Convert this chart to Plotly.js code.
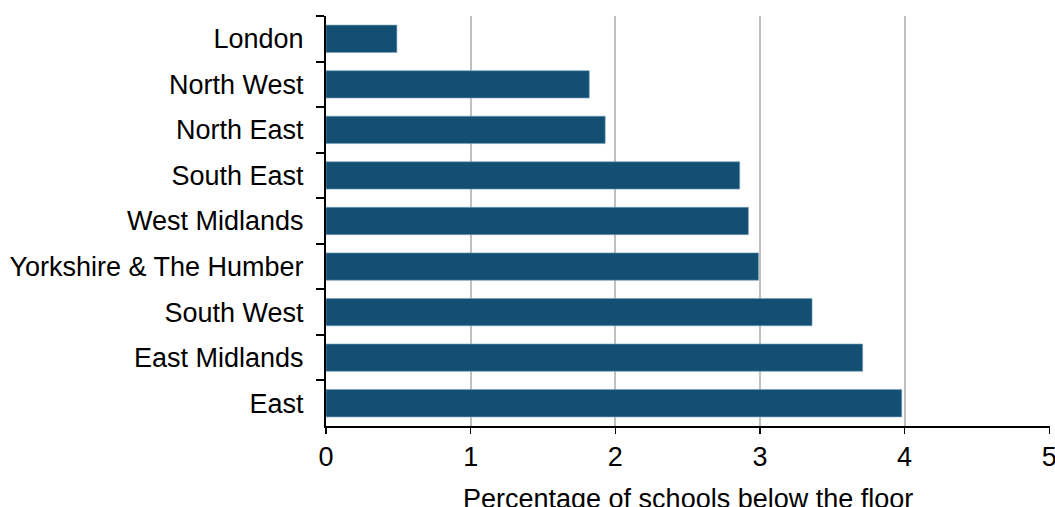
<!DOCTYPE html>
<html>
<head>
<meta charset="utf-8">
<script src="https://cdn.plot.ly/plotly-3.0.1.min.js"></script>
<style>html,body{margin:0;padding:0;background:#fff;}#chart{width:1055px;height:507px;}</style>
</head>
<body>
<div id="chart"></div>
<script>
const regions = ["London", "North West", "North East", "South East", "West Midlands", "Yorkshire & The Humber", "South West", "East Midlands", "East"];
const percentBelowFloor = [0.49, 1.82, 1.93, 2.86, 2.92, 2.99, 3.36, 3.71, 3.98];
const xTickValues = [0, 1, 2, 3, 4, 5];
const xAxisTitle = "Percentage of schools below the floor";

const font = "Arial, 'Liberation Sans', sans-serif";

Plotly.newPlot("chart", [{
  type: "bar",
  orientation: "h",
  y: regions,
  x: percentBelowFloor,
  marker: {color: "#124f72", line: {color: "rgba(120,160,185,0.8)", width: 0.8}},
  hoverinfo: "x+y"
}], {
  width: 1055,
  height: 507,
  margin: {l: 326, r: 5, t: 16, b: 81, pad: 0},
  paper_bgcolor: "#fff",
  plot_bgcolor: "#fff",
  bargap: 0.4,
  showlegend: false,
  font: {family: font, size: 27, color: "#000"},
  xaxis: {
    range: [0, 5.005],
    tickvals: xTickValues,
    ticktext: xTickValues.map(String),
    ticklabeloverflow: "allow",
    showgrid: true,
    gridcolor: "#c0c0c0",
    gridwidth: 2,
    zeroline: false,
    showline: true,
    linecolor: "#000",
    linewidth: 1.5,
    ticks: "outside",
    ticklen: 6,
    tickwidth: 1.5,
    tickcolor: "#000",
    tickfont: {family: font, size: 27, color: "#000"},
    automargin: false,
    fixedrange: true
  },
  yaxis: {
    autorange: "reversed",
    type: "category",
    showgrid: false,
    zeroline: false,
    showline: true,
    linecolor: "#000",
    linewidth: 2,
    ticks: "outside",
    tickson: "boundaries",
    ticklen: 8,
    tickwidth: 2,
    tickcolor: "#000",
    ticklabelstandoff: 15,
    tickfont: {family: font, size: 27, color: "#000"},
    automargin: false,
    fixedrange: true
  },
  annotations: [{
    text: xAxisTitle,
    xref: "paper", yref: "paper",
    x: 0.5, y: 0,
    xanchor: "center", yanchor: "top",
    yshift: -56,
    showarrow: false,
    font: {family: font, size: 27, color: "#000"}
  }]
}, {displayModeBar: false, staticPlot: true});
</script>
</body>
</html>
